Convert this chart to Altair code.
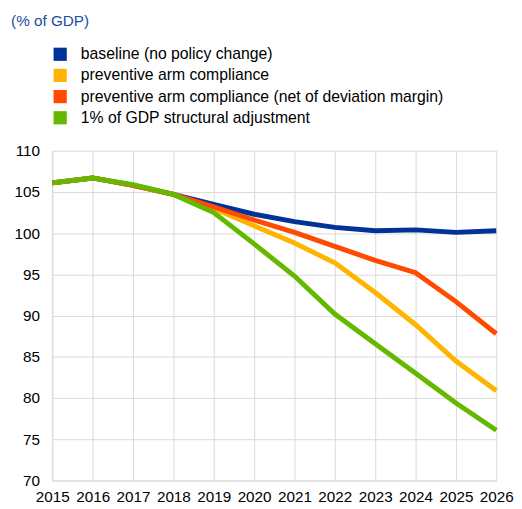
import altair as alt
import pandas as pd

years = list(range(2015, 2027))
series_names = [
    "baseline (no policy change)",
    "preventive arm compliance",
    "preventive arm compliance (net of deviation margin)",
    "1% of GDP structural adjustment",
]
colors = ["#003299", "#ffb400", "#ff4b00", "#65b800"]

baseline = [106.1, 106.7, 105.8, 104.7, 103.5, 102.3, 101.4, 100.7, 100.3, 100.4, 100.1, 100.3]
preventive = [106.1, 106.7, 105.8, 104.7, 103.0, 100.9, 98.8, 96.4, 92.8, 88.9, 84.5, 80.9]
preventive_net = [106.1, 106.7, 105.8, 104.7, 103.2, 101.6, 100.1, 98.4, 96.7, 95.2, 91.7, 87.8]
structural = [106.1, 106.7, 105.9, 104.7, 102.5, 98.7, 94.8, 90.2, 86.6, 83.0, 79.4, 76.1]

rows = []
for name, vals, order in zip(series_names, [baseline, preventive, preventive_net, structural], range(4)):
    for y, v in zip(years, vals):
        rows.append({"year": y, "value": v, "series": name, "ord": order})
df = pd.DataFrame(rows)

font = "Liberation Sans"

x_enc = alt.X("year:Q", scale=alt.Scale(domain=[2015, 2026], nice=False),
              axis=alt.Axis(values=years, format="d", title=None, labelFontSize=15.5,
                            labelColor="#000000", labelFont=font, ticks=False,
                            domainColor="#d9d9d9", gridColor="#d9d9d9", labelPadding=9,
                            labelFlush=False))
y_enc = alt.Y("value:Q", scale=alt.Scale(domain=[70, 110], nice=False),
              axis=alt.Axis(values=list(range(70, 111, 5)), title=None, labelFontSize=15.5,
                            labelColor="#000000", labelFont=font, ticks=False,
                            domainColor="#d9d9d9", gridColor="#d9d9d9", labelPadding=13))

base = alt.Chart(df)

legend_pts = base.mark_point(shape="square", filled=True, opacity=0).encode(
    x=x_enc,
    y=y_enc,
    fill=alt.Fill("series:N", scale=alt.Scale(domain=series_names, range=colors),
                  legend=alt.Legend(title=None, orient="none", legendX=0, legendY=-106,
                                    symbolType="square", symbolSize=180,
                                    symbolStrokeWidth=0, symbolOpacity=1,
                                    labelFontSize=16,
                                    labelFont=font, labelColor="#000000",
                                    rowPadding=5.5, labelOffset=13, labelLimit=500)),
)

lines = base.mark_line(strokeWidth=5).encode(
    x=x_enc,
    y=y_enc,
    color=alt.Color("series:N", scale=alt.Scale(domain=series_names, range=colors), legend=None),
    order="ord:Q",
    detail="series:N",
)

chart = alt.layer(legend_pts, lines).properties(
    width=451,
    height=335,
    autosize=alt.AutoSizeParams(type="none"),
    padding={"left": 45, "top": 141, "right": 18, "bottom": 30},
    title=alt.TitleParams("(% of GDP)", anchor="start", fontSize=15.5, font=font,
                          fontWeight="normal", color="#1d4e9e", dx=-3, offset=17),
).configure_view(stroke=None)

chart.save("out.html", embed_options={"renderer": "svg", "actions": False})
